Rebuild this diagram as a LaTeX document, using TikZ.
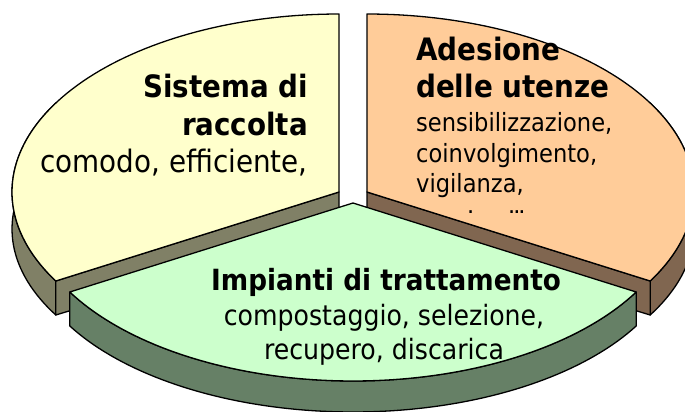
\documentclass[tikz,border=0pt]{standalone}
\usepackage{fontspec}
\setmainfont[FakeStretch=0.9]{DejaVu Sans}
\definecolor{ytop}{HTML}{FFFFCC}
\definecolor{yside}{HTML}{808066}
\definecolor{otop}{HTML}{FFCC99}
\definecolor{oside}{HTML}{806650}
\definecolor{gtop}{HTML}{CCFFCC}
\definecolor{gside}{HTML}{668066}
\tikzset{
  face/.style={draw=black, line width=1.3pt, line join=round},
  ylab/.style={anchor=base east, inner sep=0pt},
  olab/.style={anchor=base west, inner sep=0pt},
  glab/.style={anchor=base, inner sep=0pt},
}
\begin{document}
\begin{tikzpicture}[x=1pt,y=-1pt]
\useasboundingbox (0,0) rectangle (685,412);
\clip (0,0) rectangle (685,412);
% ---------- yellow slice (Sistema di raccolta)
\draw[face, fill=yside] plot[domain=150:210, samples=40] ({339+327*cos(\x)},{192-178*sin(\x)})
  -- plot[domain=210:150, samples=40] ({339+327*cos(\x)},{229-172*sin(\x)}) -- cycle;
\draw[face, fill=yside] (339,192) -- ({339+327*cos(210)},{192-178*sin(210)})
  -- ({339+327*cos(210)},{229-172*sin(210)}) -- (339,229) -- cycle;
\draw[face, fill=ytop] (339,192) -- plot[domain=90:210, samples=80] ({339+327*cos(\x)},{192-178*sin(\x)}) -- cycle;
% ---------- orange slice (Adesione delle utenze)
\draw[face, fill=oside] plot[domain=-30:30, samples=40] ({367+327*cos(\x)},{192-178*sin(\x)})
  -- plot[domain=30:-30, samples=40] ({367+327*cos(\x)},{229-172*sin(\x)}) -- cycle;
\draw[face, fill=oside] (367,192) -- ({367+327*cos(-30)},{192-178*sin(-30)})
  -- ({367+327*cos(-30)},{229-172*sin(-30)}) -- (367,229) -- cycle;
\draw[face, fill=otop] (367,192) -- plot[domain=90:-30, samples=80] ({367+327*cos(\x)},{192-178*sin(\x)}) -- cycle;
% ---------- texts of the back slices
\node[ylab, font=\bfseries\fontsize{30.8}{37}\selectfont] (y1) at (308,97) {Sistema di};
\node[ylab, font=\bfseries\fontsize{30.8}{37}\selectfont] (y2) at (308,135) {raccolta};
\node[ylab, font=\fontsize{30.9}{37}\selectfont] (y3) at (308,172) {comodo, efficiente,};
\node[olab, font=\bfseries\fontsize{30.9}{37}\selectfont] (o1) at (416,60) {Adesione};
\node[olab, font=\bfseries\fontsize{30.9}{37}\selectfont] (o2) at (416,97) {delle utenze};
\node[olab, font=\fontsize{25.1}{30}\selectfont] (o3) at (416,131) {sensibilizzazione,};
\node[olab, font=\fontsize{25.1}{30}\selectfont] (o4) at (416,162) {coinvolgimento,};
\node[olab, font=\fontsize{25.1}{30}\selectfont] (o5) at (416,192) {vigilanza,};
\node[olab, font=\bfseries\fontsize{15}{18}\selectfont] (o6) at (468,213) {.};
\node[olab, font=\bfseries\fontsize{15}{18}\selectfont] (o7) at (509,213) {...};
% ---------- green slice (Impianti di trattamento)
\draw[face, fill=gside] plot[domain=210:330, samples=80] ({353+327*cos(\x)},{203-178*sin(\x)})
  -- plot[domain=330:210, samples=80] ({353+327*cos(\x)},{240-172*sin(\x)}) -- cycle;
\draw[face, fill=gtop] (353,203) -- plot[domain=210:330, samples=80] ({353+327*cos(\x)},{203-178*sin(\x)}) -- cycle;
\node[glab, font=\bfseries\fontsize{29.2}{35}\selectfont] (g1) at (386,290) {Impianti di trattamento};
\node[glab, font=\fontsize{28}{34}\selectfont] (g2) at (384,325) {compostaggio, selezione,};
\node[glab, font=\fontsize{28}{34}\selectfont] (g3) at (384,359) {recupero, discarica};
\end{tikzpicture}
\end{document}
